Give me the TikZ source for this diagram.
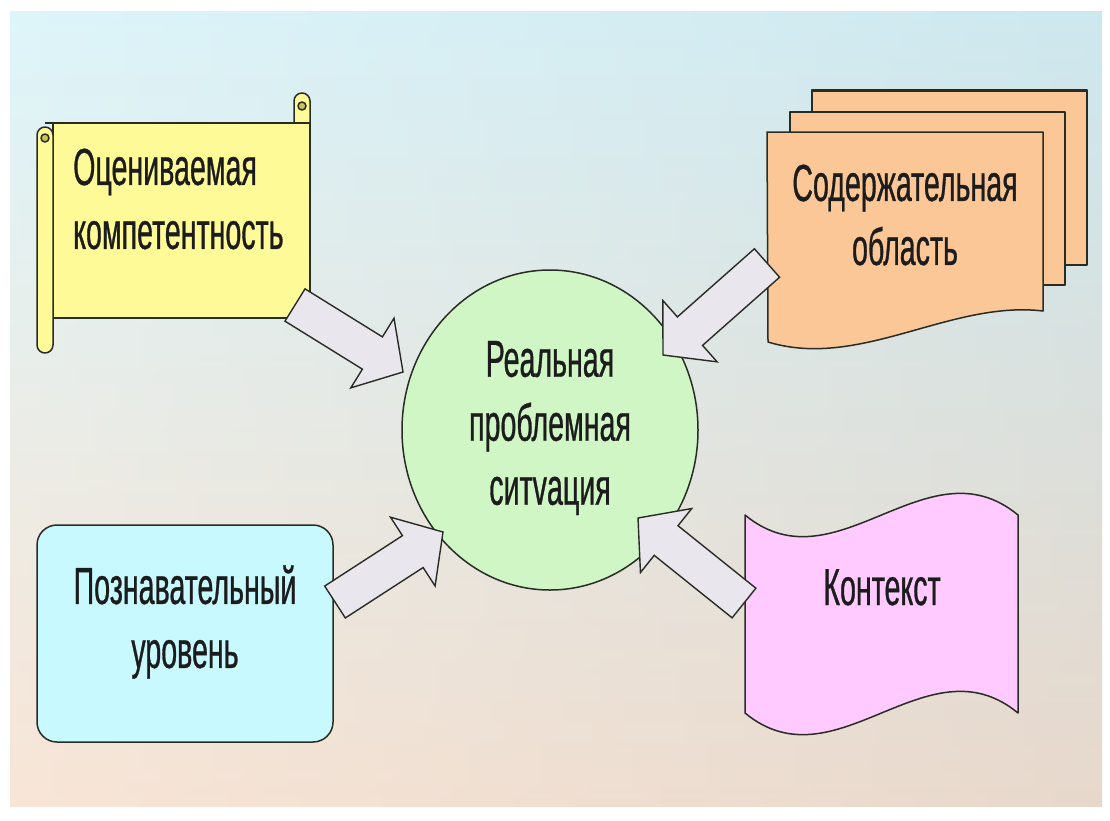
\documentclass[tikz,border=0pt]{standalone}
\usepackage{fontspec}
\setmainfont{Liberation Sans}[FakeStretch=0.55, FakeBold=0.6]
\usetikzlibrary{calc,shapes.geometric}
\definecolor{bgtop}{RGB}{214,243,249}
\definecolor{bgmid}{RGB}{240,246,234}
\definecolor{bgbot}{RGB}{247,224,206}
\definecolor{bgright}{RGB}{165,182,192}
\definecolor{yel}{RGB}{255,250,152}
\definecolor{yeldark}{RGB}{200,195,90}
\definecolor{org}{RGB}{251,199,150}
\definecolor{cyanb}{RGB}{200,249,255}
\definecolor{pinkw}{RGB}{255,202,255}
\definecolor{greene}{RGB}{208,246,198}
\definecolor{arrfill}{RGB}{234,230,238}
\definecolor{lineC}{RGB}{40,44,36}
\definecolor{txt}{RGB}{28,28,28}
\tikzset{
  outl/.style={draw=lineC, line width=1.5pt, line join=round},
  lbl/.style={font=\fontsize{52}{64}\selectfont, text=txt, inner sep=0pt, align=center},
  barrow/.style={fill=arrfill, draw=lineC, line width=1.4pt, line join=miter},
}
\newcommand\myblockarrow[3]{%
  \path ($(#2)!36pt!(#1)$) coordinate (#3h);
  \draw[barrow] ($(#1)!19pt!90:(#2)$) -- ($(#3h)!19pt!-90:(#1)$) -- ($(#3h)!41pt!-90:(#1)$)
     -- (#2) -- ($(#3h)!41pt!90:(#1)$) -- ($(#3h)!19pt!90:(#1)$) -- ($(#1)!19pt!-90:(#2)$) -- cycle;
}
\begin{document}
\begin{tikzpicture}[x=1pt,y=-1pt]
\useasboundingbox (0,0) rectangle (1110,820);
\fill[white] (0,0) rectangle (1110,820);
% background
\shade[top color=bgtop, middle color=bgmid, bottom color=bgbot] (10,11) rectangle (1102,806);
\shade[left color=white, right color=bgright, opacity=0.18] (10,11) rectangle (1102,806);

% scroll (yellow)
\draw[outl, fill=yel] (294,123) -- (294,101) arc[start angle=180, end angle=360, radius=8] -- (310,123);
\filldraw[outl, fill=yel] (53,123) rectangle (310,318);
\draw[lineC, line width=2.5pt] (45,123) -- (310,123);
\filldraw[outl, fill=yel] (53,135) arc[start angle=0, end angle=-180, radius=8] -- (37,345)
   arc[start angle=180, end angle=0, radius=8] -- cycle;
\filldraw[outl, fill=yeldark] (302,106) circle[radius=4];
\filldraw[outl, fill=yeldark] (45,138) circle[radius=4];
\node[lbl, align=left, anchor=west] (comp) at (73,199) {Оцениваемая\\компетентность};

% documents (orange)
\filldraw[outl, fill=org] (812,90) rectangle (1087,265);
\draw[lineC, line width=3pt] (812,90) -- (1087,90);
\filldraw[outl, fill=org] (790,112) rectangle (1065,285);
\filldraw[outl, fill=org] (767,132) -- (1043,132) -- (1043,311)
   .. controls (950,300) and (860,370) .. (768,342) -- cycle;
\node[lbl] (dom) at (905,215) {Содержательная\\область};

% rounded rectangle (cyan)
\node[outl, fill=cyanb, rectangle, rounded corners=20pt, minimum width=296pt, minimum height=217pt] (lvl) at (185,633.5) {};
\node[lbl] (lvltxt) at (185,622) {Познавательный\\уровень};

% wave (pink)
\filldraw[outl, fill=pinkw] (745,515) .. controls (836,590) and (927,440) .. (1018,515)
   -- (1018,713) .. controls (927,638) and (836,788) .. (745,713) -- cycle;
\node[lbl, anchor=base] (ctx) at (882,605) {Контекст};

% ellipse (green)
\node[outl, fill=greene, ellipse, minimum width=296pt, minimum height=320pt, inner sep=0pt] (sit) at (550,430) {};
\node[lbl] (sittxt) at (550,428) {Реальная\\проблемная\\ситvация};

% arrows
\coordinate (a1t) at (295,305); \coordinate (a1e) at (403,372);
\coordinate (a2t) at (767,263); \coordinate (a2e) at (663,355);
\coordinate (a3t) at (335,602); \coordinate (a3e) at (443,532);
\coordinate (a4t) at (744,603); \coordinate (a4e) at (638,518);
\myblockarrow{a1t}{a1e}{aa}
\myblockarrow{a2t}{a2e}{ab}
\myblockarrow{a3t}{a3e}{ac}
\myblockarrow{a4t}{a4e}{ad}
\end{tikzpicture}
\end{document}
